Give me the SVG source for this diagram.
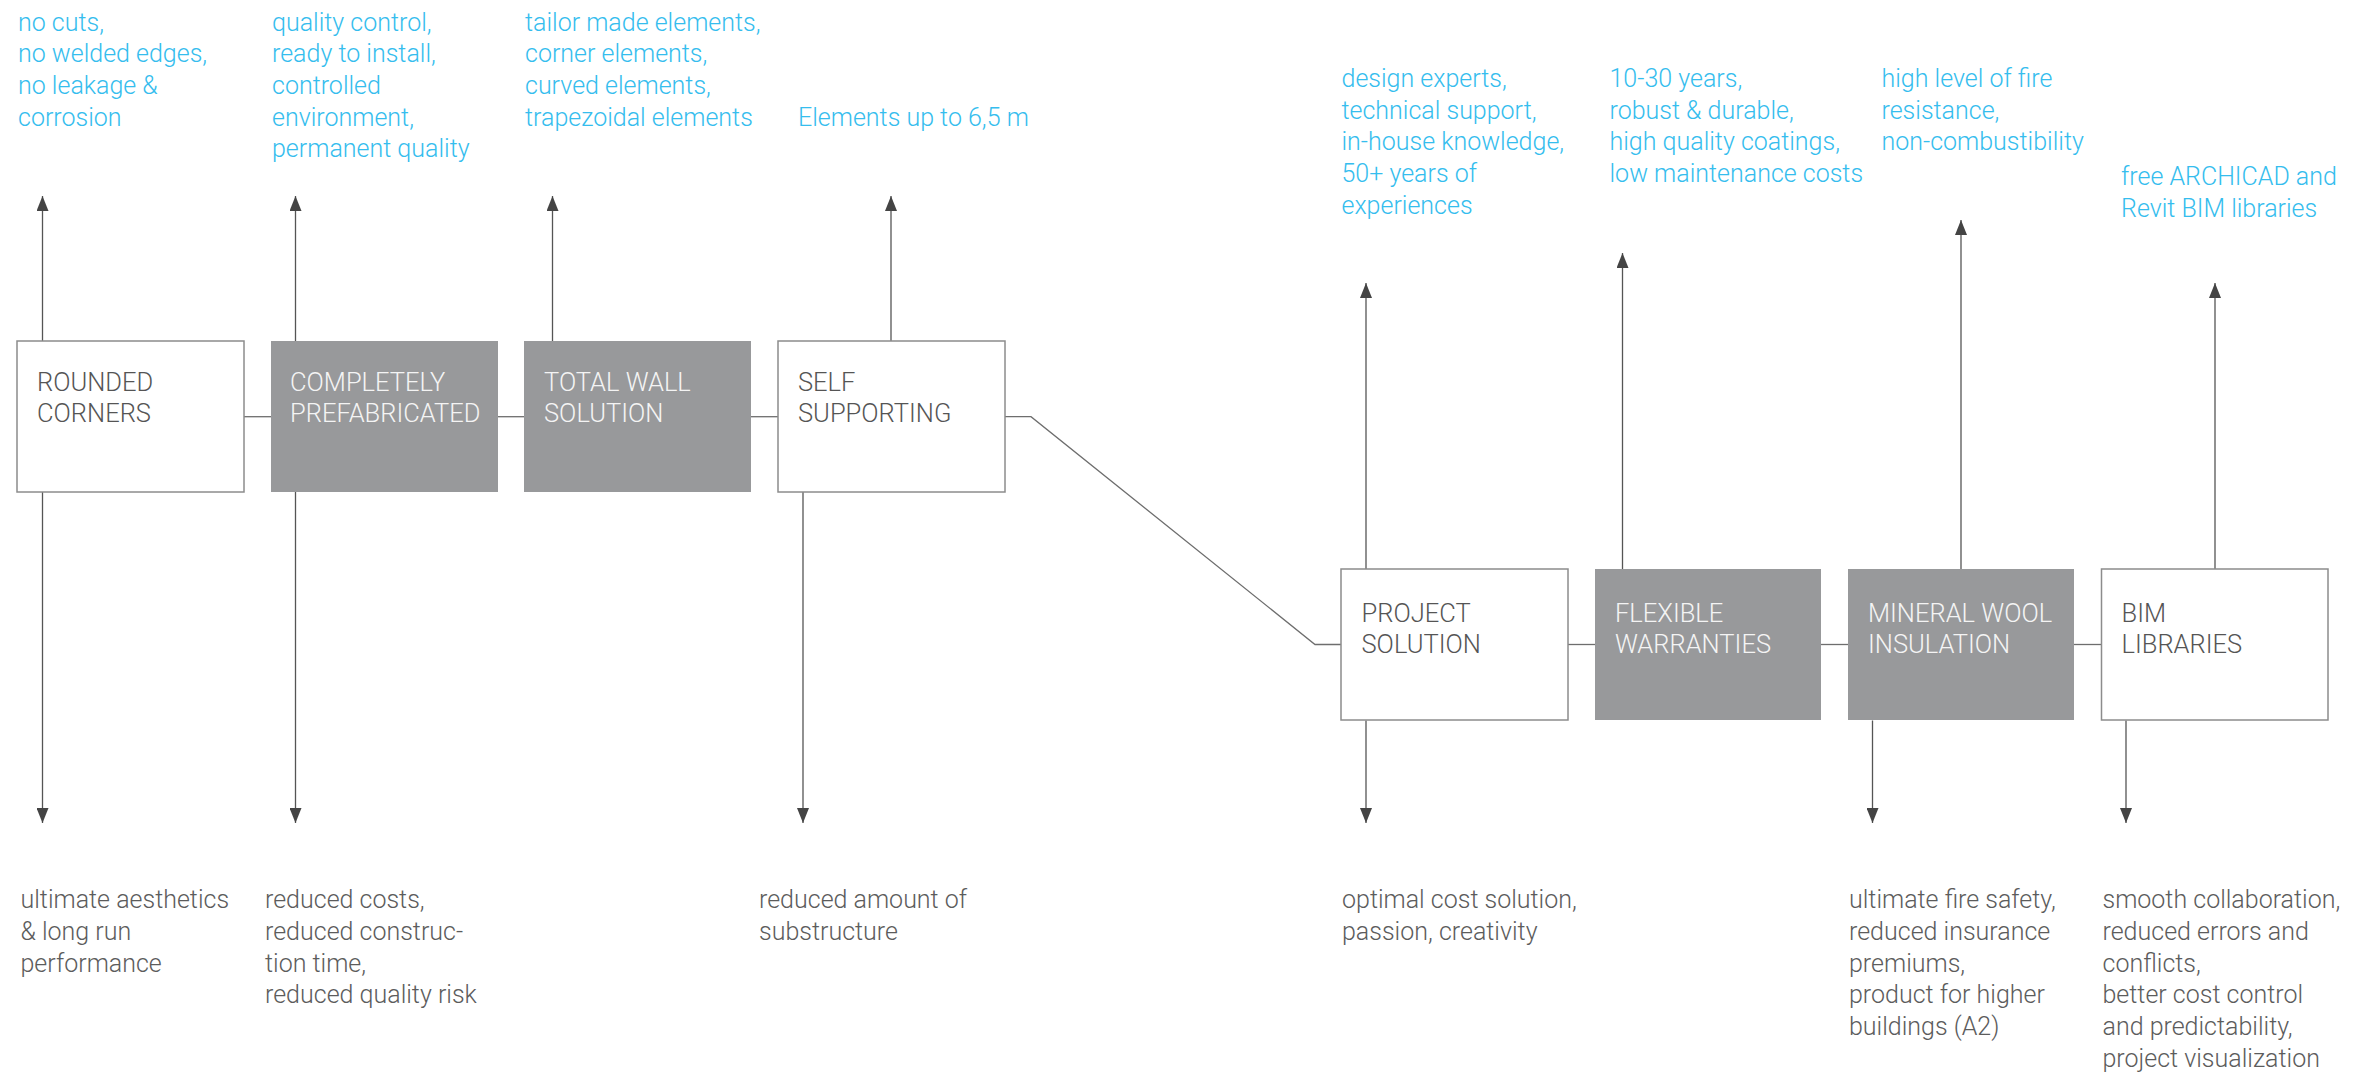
<svg xmlns="http://www.w3.org/2000/svg" width="2360" height="1077" viewBox="0 0 2360 1077">
<style>
  text { font-family: Roboto, "Liberation Sans", sans-serif; font-weight: 300; }
  .blue { fill: #35bdee; font-size: 25px; }
  .gray { fill: #5c5c5c; font-size: 25px; }
  .ttl { font-size: 25.5px; fill: #555555; }
  .ttlw { font-size: 25.5px; fill: #f4f4f4; }
  .bw { fill: #ffffff; stroke: #8c8c8c; stroke-width: 1.5; }
  .bg { fill: #98999b; }
  .ln { fill: none; stroke: #6e6e6e; stroke-width: 1.3; }
  .ar { fill: none; stroke: #555555; stroke-width: 1.3; marker-end: url(#ah); }
</style>
<defs>
  <marker id="ah" viewBox="0 0 15 12" refX="15" refY="6" markerWidth="15" markerHeight="12" markerUnits="userSpaceOnUse" orient="auto">
    <path d="M0,0 L15,6 L0,12 Z" fill="#444444"/>
  </marker>
</defs>
<rect width="2360" height="1077" fill="#ffffff"/>

<g id="connectors">
  <line class="ln" x1="244" y1="416.7" x2="271" y2="416.7"/>
  <line class="ln" x1="498" y1="416.7" x2="524" y2="416.7"/>
  <line class="ln" x1="751" y1="416.7" x2="778" y2="416.7"/>
  <polyline class="ln" points="1005,416.7 1031,416.7 1315,644.5 1341,644.5"/>
  <line class="ln" x1="1568" y1="644.5" x2="1595" y2="644.5"/>
  <line class="ln" x1="1821" y1="644.5" x2="1848" y2="644.5"/>
  <line class="ln" x1="2074" y1="644.5" x2="2101" y2="644.5"/>
  <!-- up arrows -->
  <line class="ar" x1="42.5" y1="341" x2="42.5" y2="196"/>
  <line class="ar" x1="295.5" y1="341" x2="295.5" y2="196"/>
  <line class="ar" x1="552.5" y1="341" x2="552.5" y2="196"/>
  <line class="ar" x1="891" y1="341" x2="891" y2="196"/>
  <line class="ar" x1="1366" y1="569" x2="1366" y2="283"/>
  <line class="ar" x1="1622.5" y1="569" x2="1622.5" y2="253"/>
  <line class="ar" x1="1961" y1="569" x2="1961" y2="220"/>
  <line class="ar" x1="2215" y1="569" x2="2215" y2="283"/>
  <!-- down arrows -->
  <line class="ar" x1="42.5" y1="492" x2="42.5" y2="823"/>
  <line class="ar" x1="295.5" y1="492" x2="295.5" y2="823"/>
  <line class="ar" x1="803" y1="492" x2="803" y2="823"/>
  <line class="ar" x1="1366" y1="720.5" x2="1366" y2="823"/>
  <line class="ar" x1="1872.5" y1="720.5" x2="1872.5" y2="823"/>
  <line class="ar" x1="2126" y1="720.5" x2="2126" y2="823"/>
</g>

<g id="rounded-corners">
  <rect class="bw" x="17" y="341" width="227" height="151"/>
  <text class="ttl" x="37" y="391">ROUNDED</text>
  <text class="ttl" x="37" y="422.3">CORNERS</text>
  <text class="blue" x="18" y="30.5">no cuts,</text>
  <text class="blue" x="18" y="62.2">no welded edges,</text>
  <text class="blue" x="18" y="93.9">no leakage &amp;</text>
  <text class="blue" x="18" y="125.6">corrosion</text>
  <text class="gray" x="20.5" y="908.3">ultimate aesthetics</text>
  <text class="gray" x="20.5" y="940">&amp; long run</text>
  <text class="gray" x="20.5" y="971.7">performance</text>
</g>

<g id="completely-prefabricated">
  <rect class="bg" x="271" y="341" width="227" height="151"/>
  <text class="ttlw" x="290" y="391">COMPLETELY</text>
  <text class="ttlw" x="290" y="422.3">PREFABRICATED</text>
  <text class="blue" x="272" y="30.5">quality control,</text>
  <text class="blue" x="272" y="62.2">ready to install,</text>
  <text class="blue" x="272" y="93.9">controlled</text>
  <text class="blue" x="272" y="125.6">environment,</text>
  <text class="blue" x="272" y="157.3">permanent quality</text>
  <text class="gray" x="265" y="908.3">reduced costs,</text>
  <text class="gray" x="265" y="940">reduced construc-</text>
  <text class="gray" x="265" y="971.7">tion time,</text>
  <text class="gray" x="265" y="1003.4">reduced quality risk</text>
</g>

<g id="total-wall-solution">
  <rect class="bg" x="524" y="341" width="227" height="151"/>
  <text class="ttlw" x="544" y="391">TOTAL WALL</text>
  <text class="ttlw" x="544" y="422.3">SOLUTION</text>
  <text class="blue" x="525" y="30.5">tailor made elements,</text>
  <text class="blue" x="525" y="62.2">corner elements,</text>
  <text class="blue" x="525" y="93.9">curved elements,</text>
  <text class="blue" x="525" y="125.6">trapezoidal elements</text>
</g>

<g id="self-supporting">
  <rect class="bw" x="778" y="341" width="227" height="151"/>
  <text class="ttl" x="798" y="391">SELF</text>
  <text class="ttl" x="798" y="422.3">SUPPORTING</text>
  <text class="blue" x="798" y="125.6">Elements up to 6,5 m</text>
  <text class="gray" x="759" y="908.3">reduced amount of</text>
  <text class="gray" x="759" y="940">substructure</text>
</g>

<g id="project-solution">
  <rect class="bw" x="1341" y="569" width="227" height="151"/>
  <text class="ttl" x="1361.5" y="621.5">PROJECT</text>
  <text class="ttl" x="1361.5" y="653">SOLUTION</text>
  <text class="blue" x="1341.5" y="87">design experts,</text>
  <text class="blue" x="1341.5" y="118.7">technical support,</text>
  <text class="blue" x="1341.5" y="150.4">in-house knowledge,</text>
  <text class="blue" x="1341.5" y="182.1">50+ years of</text>
  <text class="blue" x="1341.5" y="213.8">experiences</text>
  <text class="gray" x="1342" y="908.3">optimal cost solution,</text>
  <text class="gray" x="1342" y="940">passion, creativity</text>
</g>

<g id="flexible-warranties">
  <rect class="bg" x="1595" y="569" width="226" height="151"/>
  <text class="ttlw" x="1615" y="621.5">FLEXIBLE</text>
  <text class="ttlw" x="1615" y="653">WARRANTIES</text>
  <text class="blue" x="1609.5" y="87">10-30 years,</text>
  <text class="blue" x="1609.5" y="118.7">robust &amp; durable,</text>
  <text class="blue" x="1609.5" y="150.4">high quality coatings,</text>
  <text class="blue" x="1609.5" y="182.1">low maintenance costs</text>
</g>

<g id="mineral-wool-insulation">
  <rect class="bg" x="1848" y="569" width="226" height="151"/>
  <text class="ttlw" x="1868" y="621.5">MINERAL WOOL</text>
  <text class="ttlw" x="1868" y="653">INSULATION</text>
  <text class="blue" x="1881.5" y="87">high level of fire</text>
  <text class="blue" x="1881.5" y="118.7">resistance,</text>
  <text class="blue" x="1881.5" y="150.4">non-combustibility</text>
  <text class="gray" x="1849" y="908.3">ultimate fire safety,</text>
  <text class="gray" x="1849" y="940">reduced insurance</text>
  <text class="gray" x="1849" y="971.7">premiums,</text>
  <text class="gray" x="1849" y="1003.4">product for higher</text>
  <text class="gray" x="1849" y="1035.1">buildings (A2)</text>
</g>

<g id="bim-libraries">
  <rect class="bw" x="2101.5" y="569" width="226.5" height="151"/>
  <text class="ttl" x="2121.5" y="621.5">BIM</text>
  <text class="ttl" x="2121.5" y="653">LIBRARIES</text>
  <text class="blue" x="2121" y="185">free ARCHICAD and</text>
  <text class="blue" x="2121" y="216.7">Revit BIM libraries</text>
  <text class="gray" x="2102.5" y="908.3">smooth collaboration,</text>
  <text class="gray" x="2102.5" y="940">reduced errors and</text>
  <text class="gray" x="2102.5" y="971.7">conflicts,</text>
  <text class="gray" x="2102.5" y="1003.4">better cost control</text>
  <text class="gray" x="2102.5" y="1035.1">and predictability,</text>
  <text class="gray" x="2102.5" y="1066.8">project visualization</text>
</g>
</svg>
